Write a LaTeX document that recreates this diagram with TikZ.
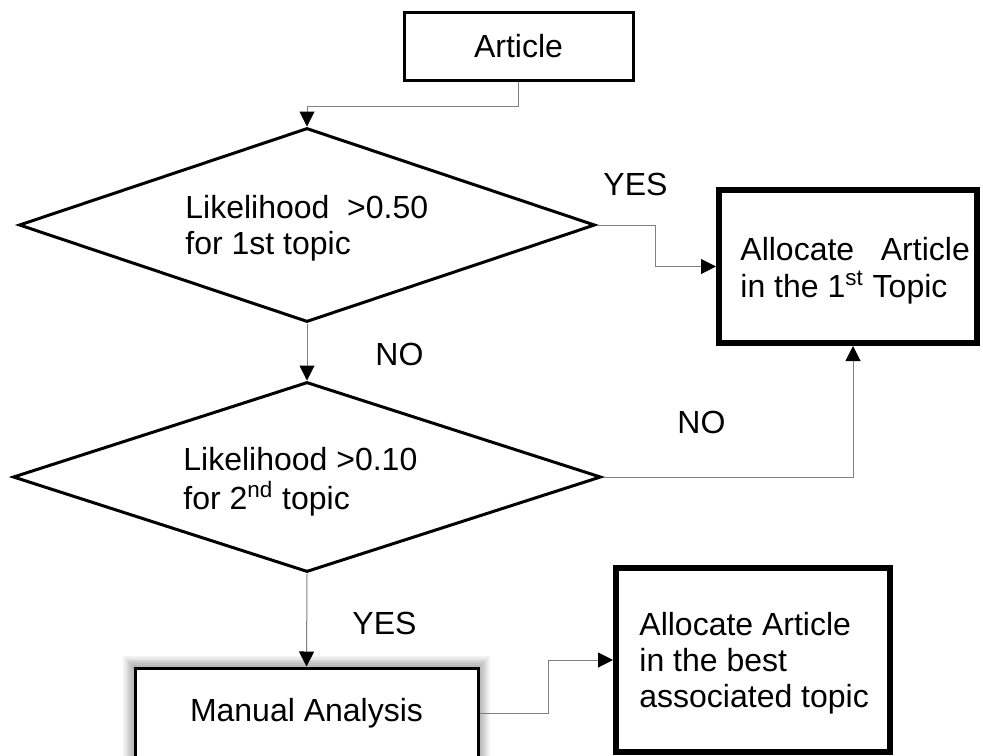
\documentclass[tikz,border=0pt]{standalone}
\usepackage{fontspec}
\setmainfont{Liberation Sans}
\usetikzlibrary{shapes.geometric,arrows.meta,backgrounds}

\begin{document}
\begin{tikzpicture}[x=0.5pt,y=-0.5pt,
  every node/.style={font=\fontsize{16}{18.2}\selectfont},
  plainbox/.style={draw=black, line width=1.5pt, fill=white, inner sep=0pt},
  heavybox/.style={draw=black, line width=3pt, fill=white, inner sep=0pt},
  decision/.style={diamond, draw=black, line width=1.5pt, inner sep=0pt},
  txt/.style={inner sep=0pt, anchor=base west},
  conn/.style={draw=black!50, line width=0.5pt,
    -{Triangle[length=7.5pt,width=7.5pt,color=black]}}]

  \useasboundingbox (0,0) rectangle (983,755);
  \clip (0,0) rectangle (983,755);

  % boxes and decisions
  \node[plainbox, minimum width=114.5pt, minimum height=34pt] (article) at (518.5,46) {Article};
  \node[decision, minimum width=288pt, minimum height=97pt] (d1) at (307,225) {};
  \node[decision, minimum width=294pt, minimum height=95pt] (d2) at (307,477) {};
  \node[heavybox, minimum width=129pt, minimum height=76.5pt] (box1) at (848,266.5) {};
  \node[plainbox, minimum width=171.5pt, minimum height=45pt] (manual) at (306.5,713) {Manual Analysis};
  \node[heavybox, minimum width=137pt, minimum height=92pt] (best) at (753,660) {};

  % soft shadow around the manual analysis box
  \begin{scope}[on background layer]
    \foreach \w in {1,...,6}
      \draw[black, opacity=0.05, line width=\w*1.7pt]
        (manual.south west) rectangle (manual.north east);
  \end{scope}

  % texts inside the shapes
  \node[txt] (t1) at (185,218) {\begin{tabular}[t]{@{}l@{}}Likelihood\ \ >0.50\\for 1st topic\end{tabular}};
  \node[txt] (t2) at (183,470) {\begin{tabular}[t]{@{}l@{}}Likelihood >0.10\\for 2\textsuperscript{nd} topic\end{tabular}};
  \node[txt] (t3) at (740,260) {\begin{tabular}[t]{@{}l@{}}Allocate\ \ \ Article\\in the 1\textsuperscript{st} Topic\end{tabular}};
  \node[txt] (t4) at (639,635) {\begin{tabular}[t]{@{}l@{}}Allocate Article\\in the best\\associated topic\end{tabular}};

  % branch labels
  \node[txt] (yes1) at (603,195) {YES};
  \node[txt] (no1) at (375,365) {NO};
  \node[txt] (no2) at (677,433) {NO};
  \node[txt] (yes2) at (352,634) {YES};

  % connectors
  \draw[conn] (article.south) -- ++(0,25) -| (d1.north);
  \draw[conn] (d1.east) -- ++(59,0) |- (box1.west);
  \draw[conn] (d1.south) -- (d2.north);
  \draw[conn] (d2.east) -| ([xshift=2.5pt]box1.south);
  \draw[conn] (d2.south) -- (manual.north);
  \draw[conn] (manual.east) -- ++(69,0) |- (best.west);
\end{tikzpicture}
\end{document}
